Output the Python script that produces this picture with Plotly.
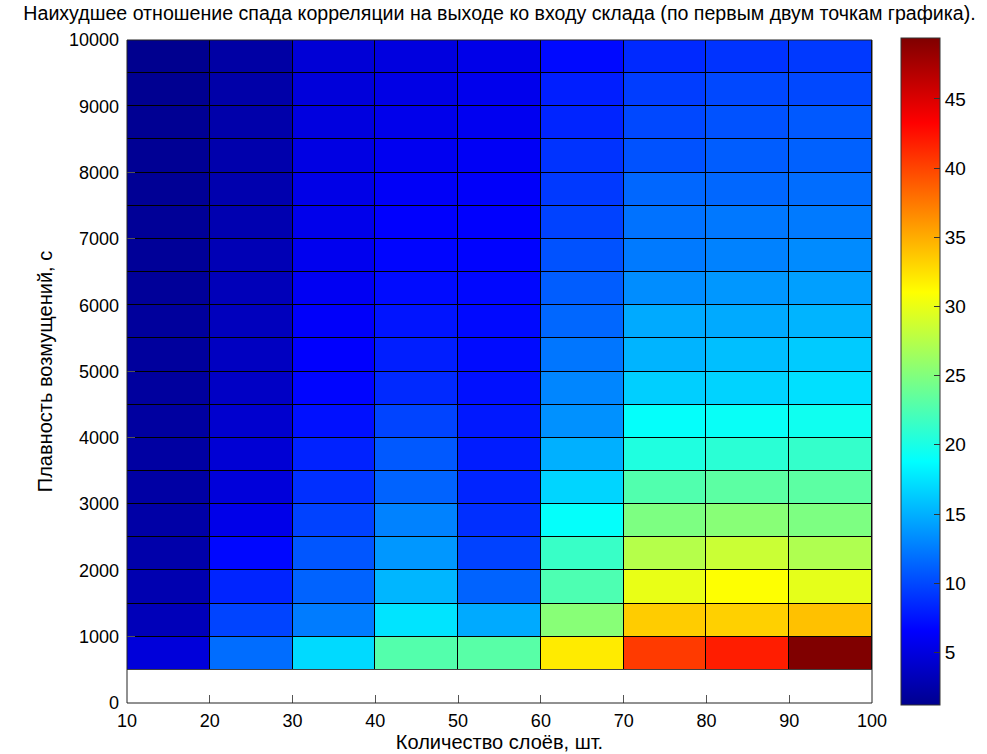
import plotly.graph_objects as go

# cell edges
layers_edges = [10, 20, 30, 40, 50, 60, 70, 80, 90, 100]
smooth_edges = [500, 1000, 1500, 2000, 2500, 3000, 3500, 4000, 4500, 5000,
                5500, 6000, 6500, 7000, 7500, 8000, 8500, 9000, 9500, 10000]

# values per layer-count column, from bottom row (500-1000) to top row (9500-10000)
col_10 = [4.8, 3.2, 2.8, 2.5, 2.3, 2.2, 2.1, 2.0, 1.9, 1.85, 1.8, 1.7, 1.65, 1.6, 1.5, 1.45, 1.4, 1.3, 1.2]
col_20 = [11.8, 9.8, 8.3, 6.9, 5.5, 4.8, 4.5, 4.2, 3.8, 3.6, 3.4, 3.2, 3.0, 2.8, 2.7, 2.6, 2.5, 2.4, 2.2]
col_30 = [17.0, 12.5, 11.3, 10.7, 9.7, 8.8, 8.2, 7.3, 6.8, 6.5, 6.3, 6.0, 5.8, 5.6, 5.4, 5.2, 5.0, 4.8, 4.6]
col_40 = [22.8, 17.5, 15.3, 13.8, 12.8, 11.3, 10.8, 9.8, 8.5, 8.0, 7.5, 7.1, 6.8, 6.5, 6.2, 5.9, 5.6, 5.3, 5.0]
col_50 = [23.0, 14.7, 11.3, 9.7, 8.8, 8.3, 7.9, 7.7, 7.3, 7.1, 7.0, 6.9, 6.7, 6.5, 6.3, 6.1, 5.9, 5.7, 5.5]
col_60 = [32.0, 25.3, 22.5, 21.5, 19.0, 16.8, 15.0, 13.5, 13.0, 12.2, 11.5, 11.0, 10.5, 9.7, 9.3, 9.0, 8.3, 8.0, 7.0]
col_70 = [40.5, 33.5, 30.0, 27.5, 24.8, 22.7, 20.3, 19.0, 16.5, 15.2, 14.7, 13.3, 12.4, 12.0, 11.5, 10.5, 10.0, 9.5, 8.5]
col_80 = [41.9, 33.3, 31.0, 28.5, 25.3, 23.2, 20.8, 19.2, 16.7, 15.7, 14.7, 13.8, 12.8, 12.3, 11.5, 11.0, 10.5, 10.0, 9.0]
col_90 = [49.4, 34.0, 29.8, 27.2, 24.8, 23.2, 21.3, 19.5, 17.3, 16.3, 15.2, 14.2, 13.2, 12.4, 11.8, 11.2, 10.8, 10.0, 9.3]

x_ticks = [10, 20, 30, 40, 50, 60, 70, 80, 90, 100]
y_ticks = [0, 1000, 2000, 3000, 4000, 5000, 6000, 7000, 8000, 9000, 10000]
cbar_ticks = [5, 10, 15, 20, 25, 30, 35, 40, 45]

title_text = "Наихудшее отношение спада корреляции на выходе ко входу склада (по первым двум точкам графика)."
x_title = "Количество слоёв, шт."
y_title = "Плавность возмущений, с"

columns = [col_10, col_20, col_30, col_40, col_50, col_60, col_70, col_80, col_90]
z = [list(row) for row in zip(*columns)]

jet = [
    [0.0, "rgb(0,0,143)"],
    [0.111, "rgb(0,0,255)"],
    [0.365, "rgb(0,255,255)"],
    [0.619, "rgb(255,255,0)"],
    [0.873, "rgb(255,0,0)"],
    [1.0, "rgb(128,0,0)"],
]

FONT = "Liberation Sans, Arial, sans-serif"

fig = go.Figure()
fig.add_trace(go.Heatmap(
    x=layers_edges, y=smooth_edges, z=z,
    colorscale=jet, xgap=1, ygap=1,
    colorbar=dict(
        x=1.039, xanchor="left", xpad=0, y=0.5, yanchor="middle", ypad=0,
        len=667, lenmode="pixels", thickness=39, thicknessmode="pixels",
        outlinewidth=1, outlinecolor="#333333",
        tickvals=cbar_ticks, ticks="inside", ticklen=6, tickcolor="#333333",
        tickfont=dict(family=FONT, size=19, color="black"),
    ),
    hoverongaps=False,
))

# black underlay for cell edges
fig.add_shape(type="rect", xref="x", yref="y",
              x0=layers_edges[0], x1=layers_edges[-1], y0=smooth_edges[0], y1=smooth_edges[-1],
              fillcolor="black", line=dict(width=0), layer="below")
# axes frame
fig.add_shape(type="rect", xref="paper", yref="paper", x0=0, x1=1, y0=0, y1=1,
              line=dict(color="#222222", width=1), layer="above")

fig.update_layout(
    width=987, height=754,
    margin=dict(l=127, r=115, t=40, b=51, autoexpand=False),
    paper_bgcolor="white", plot_bgcolor="white",
    title=dict(text=title_text, x=0.5, xref="paper", xanchor="center", y=0.983, yanchor="middle",
               font=dict(family=FONT, size=19.6, color="black")),
    font=dict(family=FONT, size=18, color="black"),
    showlegend=False,
)
fig.update_xaxes(range=[10, 100], tickvals=x_ticks, tickformat="d", ticks="inside", ticklen=8,
                 tickcolor="#555555", ticklabelstandoff=5, automargin=False,
                 showgrid=False, zeroline=False, showline=False, mirror=True, layer="below traces",
                 tickfont=dict(family=FONT, size=18, color="black"),
                 title=dict(text=x_title, standoff=3, font=dict(family=FONT, size=20, color="black")))
fig.update_yaxes(range=[0, 10000], tickvals=y_ticks, tickformat="d", ticks="inside", ticklen=8,
                 tickcolor="#555555", ticklabelstandoff=7, automargin=False,
                 showgrid=False, zeroline=False, showline=False, mirror=True, layer="below traces",
                 tickfont=dict(family=FONT, size=18, color="black"),
                 title=dict(text=y_title, standoff=10, font=dict(family=FONT, size=20, color="black")))

fig.write_html("out.html", config={"displayModeBar": False},
               post_script="document.body.style.margin='0';")
